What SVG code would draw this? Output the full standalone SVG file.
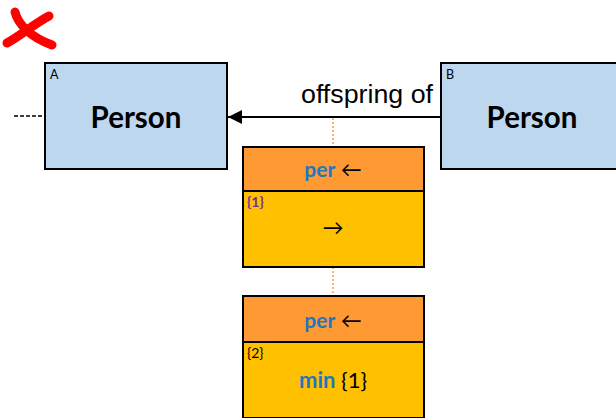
<svg xmlns="http://www.w3.org/2000/svg" width="616" height="418" viewBox="0 0 616 418">
<style>
.ent{fill:#BDD7EE;stroke:#000;stroke-width:2}
.hdr{fill:#FF9933;stroke:#000;stroke-width:2}
.bdy{fill:#FFC000;stroke:#000;stroke-width:2}
.big{font-family:Lato,"Liberation Sans",sans-serif;font-weight:bold;font-size:29.5px;fill:#000;text-anchor:middle}
.tag{font-family:Lato,"Liberation Sans",sans-serif;font-size:12.5px;fill:#000}
.tag2{font-family:Lato,"Liberation Sans",sans-serif;font-size:14px;fill:#000}
.lbl{font-family:"Liberation Sans",Arial,sans-serif;font-size:25px;fill:#000}
.mid{font-family:Lato,"Liberation Sans",sans-serif;font-size:21px;text-anchor:middle}
.blue{fill:#1F77C0;font-weight:bold}
.blk{fill:#000}
.dot{stroke:#F5A04A;stroke-width:1.5;stroke-dasharray:2 2;fill:none}
</style>
<defs>
<marker id="arr" viewBox="0 0 14 14" refX="14" refY="7" markerWidth="14" markerHeight="14" markerUnits="userSpaceOnUse" orient="auto">
<path d="M0,0 L14,7 L0,14 Z" fill="#000"/>
</marker>
</defs>
<g id="cross">
<path d="M15,12 C18,24 30,37 52,45" stroke="#FF0000" stroke-width="9" stroke-linecap="round" fill="none"/>
<path d="M49,16 C34,24 20,36 7,43" stroke="#FF0000" stroke-width="9" stroke-linecap="round" fill="none"/>
</g>
<g id="connectors">
<line x1="14" y1="116" x2="45" y2="116" stroke="#000" stroke-width="1.3" stroke-dasharray="4 2"/>
<line x1="441" y1="117" x2="228" y2="117" stroke="#000" stroke-width="2" marker-end="url(#arr)"/>
<line x1="333" y1="118" x2="333" y2="147" class="dot"/>
<line x1="333" y1="267" x2="333" y2="296" class="dot"/>
<text x="301" y="103" class="lbl" textLength="132" lengthAdjust="spacingAndGlyphs">offspring of</text>
</g>
<g id="nodeA">
<rect x="45" y="63" width="182" height="106" class="ent"/>
<text x="50" y="79" class="tag">A</text>
<text x="136" y="128" class="big">Person</text>
</g>
<g id="nodeB">
<rect x="441" y="63" width="182" height="106" class="ent"/>
<text x="446" y="79" class="tag">B</text>
<text x="532" y="128" class="big">Person</text>
</g>
<g id="role1">
<rect x="243" y="147" width="181" height="44" class="hdr"/>
<rect x="243" y="191" width="181" height="76" class="bdy"/>
<text x="333" y="177" class="mid"><tspan class="blue">per</tspan><tspan class="blk"> ←</tspan></text>
<text x="247" y="207" class="tag2" style="fill:#7030A0;font-weight:bold">{1}</text>
<text x="333" y="235" class="mid blk">→</text>
</g>
<g id="role2">
<rect x="243" y="296" width="181" height="46" class="hdr"/>
<rect x="243" y="342" width="181" height="76" class="bdy"/>
<text x="333" y="328" class="mid"><tspan class="blue">per</tspan><tspan class="blk"> ←</tspan></text>
<text x="247" y="358" class="tag2">{2}</text>
<text x="333" y="388" class="mid" style="font-size:22px"><tspan class="blue">min</tspan><tspan class="blk"> {1}</tspan></text>
</g>
</svg>
